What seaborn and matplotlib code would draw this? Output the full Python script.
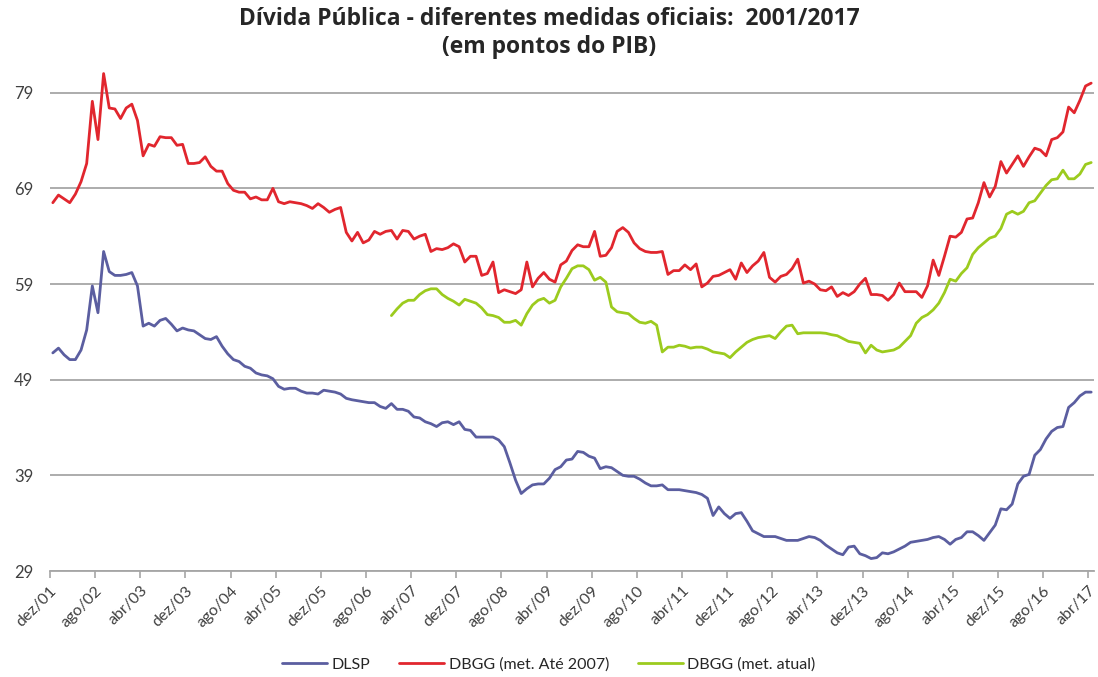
import matplotlib
matplotlib.use("Agg")
import matplotlib.pyplot as plt
import seaborn as sns
import pandas as pd
import numpy as np

# ---------------- data (monthly, dez/2001 .. abr/2017) ----------------
DLSP = [
    51.8, 52.3, 51.6, 51.1, 51.1, 52.1, 54.2, 58.8, 56.0, 62.4,
    60.3, 59.9, 59.9, 60.0, 60.2, 58.8, 54.6, 54.9, 54.6, 55.2,
    55.4, 54.8, 54.1, 54.4, 54.2, 54.1, 53.7, 53.3, 53.2, 53.5,
    52.5, 51.7, 51.1, 50.9, 50.4, 50.2, 49.7, 49.5, 49.4, 49.1,
    48.3, 48.0, 48.1, 48.1, 47.8, 47.6, 47.6, 47.5, 47.9, 47.8,
    47.7, 47.5, 47.05, 46.9, 46.8, 46.7, 46.6, 46.6, 46.2, 46.0,
    46.5, 45.9, 45.9, 45.7, 45.1, 45.0, 44.6, 44.4, 44.1, 44.5,
    44.6, 44.3, 44.6, 43.8, 43.7, 43.0, 43.0, 43.0, 43.0, 42.7,
    42.0, 40.3, 38.5, 37.1, 37.6, 38.0, 38.1, 38.1, 38.7, 39.6,
    39.9, 40.6, 40.7, 41.5, 41.4, 41.0, 40.8, 39.7, 39.9, 39.8,
    39.4, 39.0, 38.9, 38.9, 38.6, 38.2, 37.9, 37.9, 38.0, 37.5,
    37.5, 37.5, 37.4, 37.3, 37.2, 37.0, 36.6, 34.8, 35.7, 35.0,
    34.5, 35.0, 35.1, 34.2, 33.2, 32.9, 32.6, 32.6, 32.6, 32.4,
    32.2, 32.2, 32.2, 32.4, 32.6, 32.5, 32.2, 31.7, 31.3, 30.9,
    30.7, 31.5, 31.6, 30.8, 30.6, 30.3, 30.4, 30.9, 30.8, 31.0,
    31.3, 31.6, 32.0, 32.1, 32.2, 32.3, 32.5, 32.6, 32.3, 31.8,
    32.3, 32.5, 33.1, 33.1, 32.7, 32.2, 33.0, 33.8, 35.5, 35.4,
    36.0, 38.1, 38.9, 39.1, 41.1, 41.7, 42.8, 43.6, 44.0, 44.1,
    46.1, 46.6, 47.3, 47.7, 47.7,
]

DBGG_2007 = [
    67.5, 68.3, 67.9, 67.5, 68.4, 69.7, 71.6, 78.1, 74.1, 81.0,
    77.4, 77.3, 76.3, 77.4, 77.8, 76.1, 72.4, 73.6, 73.4, 74.4,
    74.3, 74.3, 73.5, 73.6, 71.6, 71.6, 71.7, 72.3, 71.3, 70.8,
    70.8, 69.5, 68.8, 68.6, 68.6, 67.9, 68.1, 67.8, 67.8, 69.0,
    67.6, 67.4, 67.6, 67.5, 67.4, 67.2, 66.9, 67.4, 67.0, 66.5,
    66.8, 67.0, 64.4, 63.5, 64.4, 63.3, 63.6, 64.5, 64.2, 64.5,
    64.6, 63.7, 64.6, 64.5, 63.7, 64.0, 64.2, 62.4, 62.7, 62.6,
    62.8, 63.2, 62.9, 61.3, 61.9, 61.9, 59.9, 60.1, 61.3, 58.1,
    58.4, 58.2, 58.0, 58.4, 61.3, 58.7, 59.6, 60.2, 59.5, 59.2,
    61.0, 61.4, 62.5, 63.1, 62.9, 62.9, 64.5, 61.9, 62.0, 62.8,
    64.5, 64.9, 64.4, 63.3, 62.7, 62.4, 62.3, 62.3, 62.4, 60.0,
    60.4, 60.4, 61.0, 60.5, 61.1, 58.7, 59.1, 59.8, 59.9, 60.2,
    60.5, 59.5, 61.2, 60.2, 60.9, 61.4, 62.3, 59.7, 59.2, 59.8,
    60.0, 60.6, 61.6, 59.1, 59.3, 59.0, 58.4, 58.3, 58.7, 57.7,
    58.1, 57.8, 58.2, 59.0, 59.6, 57.9, 57.9, 57.8, 57.3, 57.9,
    59.1, 58.2, 58.2, 58.2, 57.6, 58.8, 61.5, 59.9, 61.9, 64.0,
    63.9, 64.4, 65.8, 65.9, 67.5, 69.6, 68.1, 69.2, 71.8, 70.6,
    71.5, 72.4, 71.3, 72.3, 73.2, 73.0, 72.4, 74.1, 74.3, 74.9,
    77.5, 76.9, 78.2, 79.7, 80.0,
]

# DBGG (met. atual) starts in dez/2006 (month index 60)
DBGG_ATUAL_START = 60
DBGG_ATUAL = [
    55.7, 56.4, 57.0, 57.3, 57.3, 57.9, 58.3, 58.5, 58.5, 57.9,
    57.5, 57.2, 56.8, 57.4, 57.2, 57.0, 56.5, 55.8, 55.7, 55.5,
    55.0, 55.0, 55.2, 54.7, 55.9, 56.8, 57.3, 57.5, 57.0, 57.3,
    58.7, 59.6, 60.6, 60.9, 60.9, 60.5, 59.4, 59.7, 59.2, 56.6,
    56.1, 56.0, 55.9, 55.4, 55.0, 54.9, 55.1, 54.7, 51.9, 52.4,
    52.4, 52.6, 52.5, 52.3, 52.4, 52.4, 52.2, 51.9, 51.8, 51.7,
    51.3, 51.9, 52.4, 52.9, 53.2, 53.4, 53.5, 53.6, 53.3, 54.0,
    54.6, 54.7, 53.8, 53.9, 53.9, 53.9, 53.9, 53.85, 53.7, 53.6,
    53.3, 53.0, 52.9, 52.8, 51.8, 52.6, 52.1, 51.9, 52.0, 52.1,
    52.4, 53.0, 53.6, 54.9, 55.5, 55.8, 56.3, 57.0, 58.1, 59.5,
    59.3, 60.1, 60.7, 62.1, 62.8, 63.3, 63.8, 64.0, 64.8, 66.3,
    66.6, 66.3, 66.6, 67.5, 67.7, 68.5, 69.3, 69.9, 70.0, 70.9,
    70.0, 70.0, 70.5, 71.5, 71.7,
]

TICK_LABELS = ["dez/01", "ago/02", "abr/03", "dez/03", "ago/04", "abr/05",
               "dez/05", "ago/06", "abr/07", "dez/07", "ago/08", "abr/09",
               "dez/09", "ago/10", "abr/11", "dez/11", "ago/12", "abr/13",
               "dez/13", "ago/14", "abr/15", "dez/15", "ago/16", "abr/17"]
TICK_STEP = 8
Y_TICKS = [29, 39, 49, 59, 69, 79]

SERIES_NAMES = ["DLSP", "DBGG (met. Até 2007)", "DBGG (met. atual)"]
COLORS = ["#5B5EA0", "#E1262E", "#9CCB1E"]

TITLE1 = "Dívida Pública - diferentes medidas oficiais:  2001/2017"
TITLE2 = "(em pontos do PIB)"

# ---------------- build long table ----------------
n = len(DLSP)
idx = np.arange(n)
green_full = [np.nan] * DBGG_ATUAL_START + DBGG_ATUAL
frames = []
for name, vals in zip(SERIES_NAMES, [DLSP, DBGG_2007, green_full]):
    frames.append(pd.DataFrame({"x": idx + 0.5, "valor": vals, "serie": name}))
df = pd.concat(frames, ignore_index=True).dropna()

# ---------------- plot ----------------
sns.set_theme(style="white")
plt.rcParams["font.family"] = ["Lato", "DejaVu Sans"]

fig = plt.figure(figsize=(10.98, 6.77), dpi=100)
ax = fig.add_axes([50 / 1098, 1 - 571 / 677, 1044 / 1098, (571 - 64) / 677])

sns.lineplot(data=df, x="x", y="valor", hue="serie", hue_order=SERIES_NAMES,
             palette=COLORS, linewidth=2.0, ax=ax, legend=True)

ax.set_xlim(0, n)
ax.set_ylim(29, 82)
ax.set_yticks(Y_TICKS)
ax.set_yticklabels([str(t) for t in Y_TICKS], fontsize=12, color="#404040")
ax.yaxis.grid(True, color="#A6A6A6", linewidth=1.3)
ax.xaxis.grid(False)
ax.set_axisbelow(True)

# tick marks at category boundaries, labels hanging from them
major_pos = [i * TICK_STEP for i in range(len(TICK_LABELS))]
ax.set_xticks(major_pos)
ax.set_xticklabels(TICK_LABELS, rotation=45, ha="right",
                   rotation_mode="anchor", fontsize=11.5, color="#404040")
ax.tick_params(axis="x", which="major", length=5, width=1.2, color="#A6A6A6",
               direction="out", bottom=True, pad=4)
ax.tick_params(axis="y", length=0, pad=12)

for s in ["left", "right", "top"]:
    ax.spines[s].set_visible(False)
ax.spines["bottom"].set_color("#A6A6A6")
ax.spines["bottom"].set_linewidth(1.3)
ax.set_xlabel("")
ax.set_ylabel("")

handles, labels = ax.get_legend_handles_labels()
ax.get_legend().remove()
fig.legend(handles, labels, loc="center", bbox_to_anchor=(0.5, 0.018),
           ncol=3, frameon=False, fontsize=11.5, handlelength=2.8,
           columnspacing=1.8, handletextpad=0.3)

fig.text(0.5, 1 - 19 / 677, TITLE1, ha="center", va="center",
         fontsize=16.5, fontweight="bold", color="#262626",
         family=["Open Sans", "DejaVu Sans"])
fig.text(0.5, 1 - 47 / 677, TITLE2, ha="center", va="center",
         fontsize=16.5, fontweight="bold", color="#262626",
         family=["Open Sans", "DejaVu Sans"])

fig.savefig("out.png", dpi=100)
